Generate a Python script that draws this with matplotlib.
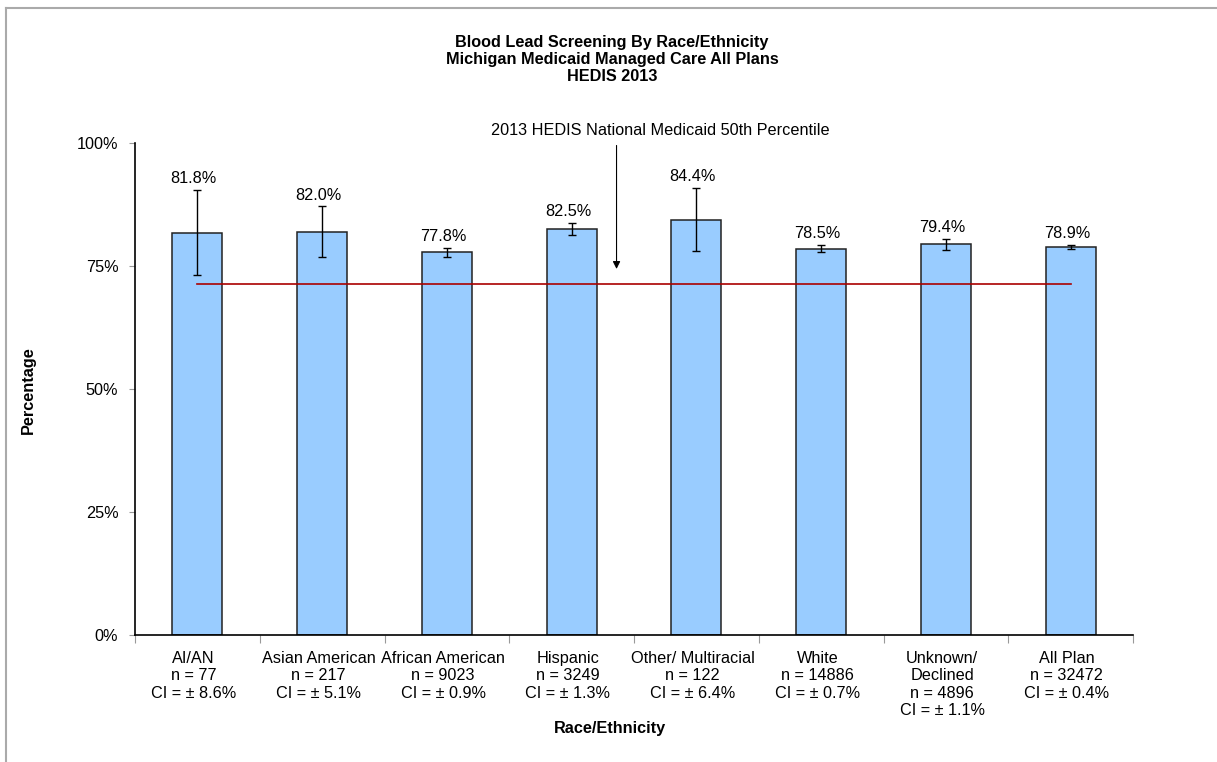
import numpy as np
import matplotlib.pyplot as plt
from matplotlib.lines import Line2D

plt.rcParams['font.family'] = ['Liberation Sans', 'DejaVu Sans']

# data
groups = ['AI/AN', 'Asian American', 'African American', 'Hispanic',
          'Other/ Multiracial', 'White', 'Unknown/\nDeclined', 'All Plan']
n_vals = [77, 217, 9023, 3249, 122, 14886, 4896, 32472]
rates = [81.8, 82.0, 77.8, 82.5, 84.4, 78.5, 79.4, 78.9]
ci = [8.6, 5.1, 0.9, 1.3, 6.4, 0.7, 1.1, 0.4]
percentile_50 = 71.3

fs = 11.7

fig = plt.figure(figsize=(12.17, 7.62), dpi=100)
ax = fig.add_axes([135/1217, 1-635/762, 998/1217, 492/762])

x = np.arange(len(groups))
ax.bar(x, rates, width=0.4, color='#99ccff', edgecolor='#222222', linewidth=1.1, zorder=2)
ax.errorbar(x, rates, yerr=ci, fmt='none', ecolor='black', elinewidth=1,
            capsize=3, capthick=1, zorder=3)

# national 50th percentile line
ax.plot([x[0], x[-1]], [percentile_50, percentile_50], color='#aa0000', lw=1.2, zorder=4)

for xi, r, c in zip(x, rates, ci):
    ax.text(xi - 0.03, r + c + 0.8, f'{r:.1f}%', ha='center', va='bottom', fontsize=fs)

ax.set_xlim(-0.5, len(groups) - 0.5)
ax.set_ylim(0, 100)
ax.set_yticks([0, 25, 50, 75, 100])
ax.set_yticklabels(['0%', '25%', '50%', '75%', '100%'], fontsize=fs)
ax.tick_params(axis='y', length=4, color='#999999', pad=8)

# category ticks between bars, labels as text below
ax.set_xticks(np.arange(-0.5, len(groups), 1.0))
ax.set_xticklabels([])
ax.tick_params(axis='x', length=6, color='#999999', direction='out')
for xi, g, n, c in zip(x, groups, n_vals, ci):
    ax.text(xi - 0.03, -3.2, f'{g}\nn = {n}\nCI = \u00b1 {c}%', ha='center', va='top',
            fontsize=fs, linespacing=1.2)

for s in ['top', 'right']:
    ax.spines[s].set_visible(False)
ax.spines['left'].set_linewidth(1.2)
ax.spines['bottom'].set_linewidth(1.2)

# arrow to the percentile line
ax.annotate('', xy=(3.36, 74.4), xytext=(3.36, 99.5),
            arrowprops=dict(arrowstyle='-|>', color='black', lw=0.8,
                            shrinkA=0, shrinkB=0, mutation_scale=11))
ax.text(3.71, 102.5, '2013 HEDIS National Medicaid 50th Percentile',
        ha='center', va='center', fontsize=fs)

fig.text(612/1217, 1-35/762, 'Blood Lead Screening By Race/Ethnicity\nMichigan Medicaid Managed Care All Plans\nHEDIS 2013',
         ha='center', va='top', fontsize=fs, fontweight='bold', linespacing=1.15)
fig.text(28/1217, 1-390/762, 'Percentage', rotation=90, ha='center', va='center',
         fontsize=fs, fontweight='bold')
fig.text(610/1217, 1-728/762, 'Race/Ethnicity', ha='center', va='center',
         fontsize=fs, fontweight='bold')

# chart border (left and top)
fig.add_artist(Line2D([6/1217, 6/1217], [0, 1-8/762], color='#aaaaaa', lw=1.5,
                      transform=fig.transFigure))
fig.add_artist(Line2D([6/1217, 1], [1-8/762, 1-8/762], color='#aaaaaa', lw=1.5,
                      transform=fig.transFigure))

fig.savefig('out.png', dpi=100)
